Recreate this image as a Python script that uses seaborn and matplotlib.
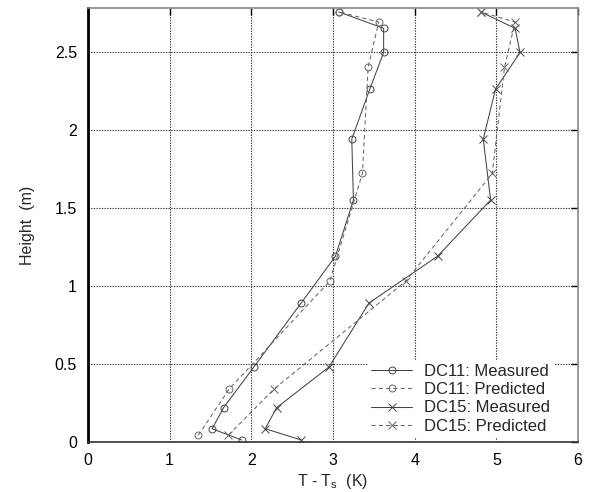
import matplotlib
matplotlib.use("Agg")
import matplotlib.pyplot as plt
import seaborn as sns
import pandas as pd

# DC11 measured
dc11_meas_x = [1.88, 1.52, 1.66, 2.03, 2.61, 3.03, 3.25, 3.23, 3.45, 3.62, 3.62, 3.07]
dc11_meas_h = [0.013, 0.085, 0.22, 0.48, 0.89, 1.19, 1.55, 1.94, 2.26, 2.495, 2.65, 2.755]
# DC11 predicted
dc11_pred_x = [1.35, 1.73, 2.96, 3.36, 3.43, 3.56, 3.07]
dc11_pred_h = [0.043, 0.34, 1.03, 1.72, 2.40, 2.69, 2.755]
# DC15 measured
dc15_meas_x = [2.61, 2.17, 2.31, 2.95, 3.44, 4.28, 4.93, 4.84, 4.99, 5.29, 5.23, 4.81]
dc15_meas_h = [0.013, 0.085, 0.22, 0.48, 0.89, 1.19, 1.55, 1.94, 2.26, 2.495, 2.65, 2.755]
# DC15 predicted
dc15_pred_x = [1.72, 2.28, 3.89, 4.95, 5.10, 5.23, 4.81]
dc15_pred_h = [0.045, 0.34, 1.03, 1.72, 2.40, 2.69, 2.755]

labels = ["DC11: Measured", "DC11: Predicted", "DC15: Measured", "DC15: Predicted"]
xticks = [0, 1, 2, 3, 4, 5, 6]
yticks = [0, 0.5, 1, 1.5, 2, 2.5]

sns.set_style("white")
plt.rcParams["font.family"] = ["Liberation Sans", "DejaVu Sans"]
plt.rcParams["mathtext.fontset"] = "custom"
plt.rcParams["mathtext.rm"] = "Liberation Sans"
plt.rcParams["mathtext.it"] = "Liberation Sans"

fig = plt.figure(figsize=(5.95, 4.92), dpi=100)
ax = fig.add_axes([88/595, 1-442/492, (578-88)/595, (442-8)/492])

series = [
    (dc11_meas_x, dc11_meas_h, labels[0], "-", "o", "#444444", 5.0),
    (dc11_pred_x, dc11_pred_h, labels[1], (0, (4, 3)), "o", "#666666", 5.0),
    (dc15_meas_x, dc15_meas_h, labels[2], "-", "x", "#444444", 5.5),
    (dc15_pred_x, dc15_pred_h, labels[3], (0, (4, 3)), "x", "#666666", 5.5),
]
for xs, hs, lab, ls, mk, col, ms in series:
    df = pd.DataFrame({"x": xs, "h": hs})
    sns.lineplot(data=df, x="x", y="h", sort=False, estimator=None, ax=ax,
                 color=col, linewidth=0.75, linestyle=ls, marker=mk,
                 markersize=ms, markerfacecolor="none", markeredgecolor=col,
                 markeredgewidth=0.7, label=lab)

ax.set_xlim(0, 6)
ax.set_ylim(0, 2.78)
ax.set_xticks(xticks)
ax.set_xticklabels([str(t) for t in xticks])
ax.set_yticks(yticks)
ax.set_yticklabels(["0", "0.5", "1", "1.5", "2", "2.5"])
ax.grid(True, color="#333333", linestyle=(0, (1.2, 1.2)), linewidth=0.8)
ax.set_axisbelow(True)
ax.tick_params(direction="in", length=5, width=1, top=True, right=True,
               labelsize=11.5, pad=8, colors="black")
for s in ["top", "right"]:
    ax.spines[s].set_color("#888888")
    ax.spines[s].set_linewidth(1.2)
ax.spines["left"].set_color("black")
ax.spines["left"].set_linewidth(2)
ax.spines["bottom"].set_color("#333333")
ax.spines["bottom"].set_linewidth(1.2)

ax.set_xlabel("T - T$_\\mathrm{s}$  (K)", fontsize=11.5, labelpad=3)
ax.set_ylabel("Height  (m)", fontsize=11.5, labelpad=14)

leg = ax.legend(loc="lower right", bbox_to_anchor=(0.965, -0.006), fontsize=12,
                frameon=True, framealpha=1, facecolor="white", edgecolor="white",
                handlelength=2.5, handletextpad=0.7, labelspacing=0.2,
                borderpad=0.15, fancybox=False)
leg.set_zorder(1.5)

fig.savefig("out.png", dpi=100)
